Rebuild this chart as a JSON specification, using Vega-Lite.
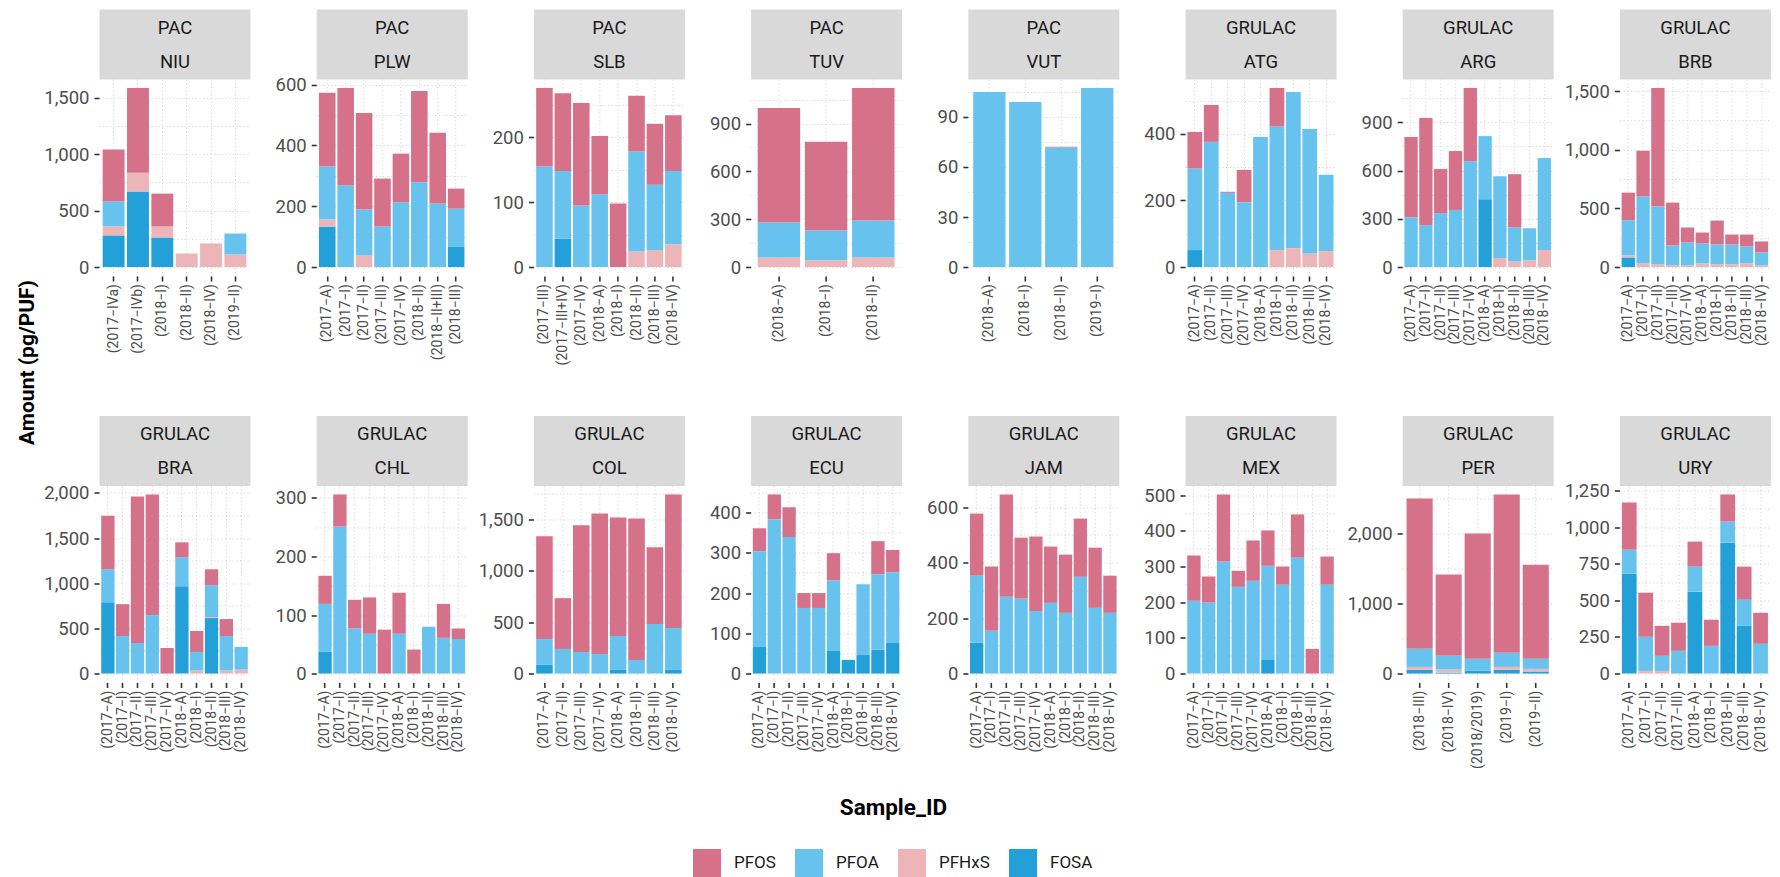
{
"$schema": "https://vega.github.io/schema/vega-lite/v6.json",
"background": "white",
"autosize": {"type": "none"},
"padding": {"left": 99, "top": 79, "right": 1681, "bottom": 798},
"bounds": "flush",
"columns": 8,
"spacing": {"row": 209.5, "column": 66.2},
"config": {
 "font": "Roboto",
 "view": {"stroke": null},
 "axisBottom": {"labelAngle": -90, "labelFont": "Roboto", "labelFontSize": 14, "labelColor": "#4d4d4d", "labelPadding": 2.5, "tickColor": "#333333", "tickSize": 5, "tickWidth": 1.6, "domain": false, "grid": true, "gridColor": "#d4d4d4", "gridDash": [1.2, 2.5], "gridWidth": 1, "bandPosition": 0.5, "labelOverlap": false, "labelBound": false},
 "axisLeft": {"labelFont": "Roboto", "labelFontSize": 18.5, "labelColor": "#4d4d4d", "labelPadding": 5, "tickColor": "#333333", "tickSize": 5, "tickWidth": 1.6, "domain": false, "grid": true, "gridColor": "#d4d4d4", "gridDash": [1.2, 2.5], "gridWidth": 1, "format": ",d"},
 "axisTop": {"domain": true, "domainColor": "#d9d9d9", "domainWidth": 70, "offset": 35, "ticks": false, "labels": false, "grid": false, "titleFont": "Roboto", "titleFontSize": 18.5, "titleFontWeight": "normal", "titleColor": "#1a1a1a", "titleLineHeight": 34, "titleX": 75.5, "titleY": -17, "titleAlign": "center", "titleBaseline": "middle", "titleAngle": 0, "titlePadding": 0},
 "legend": {"orient": "none", "legendX": 594, "legendY": 770, "direction": "horizontal", "symbolType": "square", "symbolSize": 784, "symbolStrokeWidth": 0, "symbolOpacity": 1, "labelFont": "Roboto", "labelFontSize": 17, "labelColor": "#1a1a1a", "labelOffset": 13, "columnPadding": 19, "padding": 0}
},
"data": {"values": [
{"country":"NIU","sample":"(2017−IVa)","compound":"FOSA","amount":280},
{"country":"NIU","sample":"(2017−IVa)","compound":"PFHxS","amount":80},
{"country":"NIU","sample":"(2017−IVa)","compound":"PFOA","amount":220},
{"country":"NIU","sample":"(2017−IVa)","compound":"PFOS","amount":460},
{"country":"NIU","sample":"(2017−IVb)","compound":"FOSA","amount":668},
{"country":"NIU","sample":"(2017−IVb)","compound":"PFHxS","amount":167},
{"country":"NIU","sample":"(2017−IVb)","compound":"PFOS","amount":750},
{"country":"NIU","sample":"(2018−I)","compound":"FOSA","amount":262},
{"country":"NIU","sample":"(2018−I)","compound":"PFHxS","amount":97},
{"country":"NIU","sample":"(2018−I)","compound":"PFOS","amount":291},
{"country":"NIU","sample":"(2018−II)","compound":"PFHxS","amount":120},
{"country":"NIU","sample":"(2018−IV)","compound":"PFHxS","amount":209},
{"country":"NIU","sample":"(2019−II)","compound":"PFHxS","amount":112},
{"country":"NIU","sample":"(2019−II)","compound":"PFOA","amount":185},
{"country":"PLW","sample":"(2017−A)","compound":"FOSA","amount":133},
{"country":"PLW","sample":"(2017−A)","compound":"PFHxS","amount":23},
{"country":"PLW","sample":"(2017−A)","compound":"PFOA","amount":175},
{"country":"PLW","sample":"(2017−A)","compound":"PFOS","amount":242},
{"country":"PLW","sample":"(2017−I)","compound":"PFOA","amount":268},
{"country":"PLW","sample":"(2017−I)","compound":"PFOS","amount":321},
{"country":"PLW","sample":"(2017−II)","compound":"PFHxS","amount":38},
{"country":"PLW","sample":"(2017−II)","compound":"PFOA","amount":151},
{"country":"PLW","sample":"(2017−II)","compound":"PFOS","amount":318},
{"country":"PLW","sample":"(2017−III)","compound":"PFOA","amount":133},
{"country":"PLW","sample":"(2017−III)","compound":"PFOS","amount":158},
{"country":"PLW","sample":"(2017−IV)","compound":"PFOA","amount":213},
{"country":"PLW","sample":"(2017−IV)","compound":"PFOS","amount":160},
{"country":"PLW","sample":"(2018−II)","compound":"PFOA","amount":279},
{"country":"PLW","sample":"(2018−II)","compound":"PFOS","amount":300},
{"country":"PLW","sample":"(2018−II+III)","compound":"PFOA","amount":209},
{"country":"PLW","sample":"(2018−II+III)","compound":"PFOS","amount":233},
{"country":"PLW","sample":"(2018−III)","compound":"FOSA","amount":68},
{"country":"PLW","sample":"(2018−III)","compound":"PFOA","amount":124},
{"country":"PLW","sample":"(2018−III)","compound":"PFOS","amount":66},
{"country":"SLB","sample":"(2017−III)","compound":"PFOA","amount":155},
{"country":"SLB","sample":"(2017−III)","compound":"PFOS","amount":121},
{"country":"SLB","sample":"(2017−III+IV)","compound":"FOSA","amount":44},
{"country":"SLB","sample":"(2017−III+IV)","compound":"PFOA","amount":104},
{"country":"SLB","sample":"(2017−III+IV)","compound":"PFOS","amount":120},
{"country":"SLB","sample":"(2017−IV)","compound":"PFOA","amount":95},
{"country":"SLB","sample":"(2017−IV)","compound":"PFOS","amount":158},
{"country":"SLB","sample":"(2018−A)","compound":"PFOA","amount":112},
{"country":"SLB","sample":"(2018−A)","compound":"PFOS","amount":90},
{"country":"SLB","sample":"(2018−I)","compound":"PFOS","amount":98},
{"country":"SLB","sample":"(2018−II)","compound":"PFHxS","amount":24},
{"country":"SLB","sample":"(2018−II)","compound":"PFOA","amount":154},
{"country":"SLB","sample":"(2018−II)","compound":"PFOS","amount":86},
{"country":"SLB","sample":"(2018−III)","compound":"PFHxS","amount":26},
{"country":"SLB","sample":"(2018−III)","compound":"PFOA","amount":101},
{"country":"SLB","sample":"(2018−III)","compound":"PFOS","amount":94},
{"country":"SLB","sample":"(2018−IV)","compound":"PFHxS","amount":35},
{"country":"SLB","sample":"(2018−IV)","compound":"PFOA","amount":113},
{"country":"SLB","sample":"(2018−IV)","compound":"PFOS","amount":86},
{"country":"TUV","sample":"(2018−A)","compound":"PFHxS","amount":60},
{"country":"TUV","sample":"(2018−A)","compound":"PFOA","amount":219},
{"country":"TUV","sample":"(2018−A)","compound":"PFOS","amount":719},
{"country":"TUV","sample":"(2018−I)","compound":"PFHxS","amount":42},
{"country":"TUV","sample":"(2018−I)","compound":"PFOA","amount":187},
{"country":"TUV","sample":"(2018−I)","compound":"PFOS","amount":556},
{"country":"TUV","sample":"(2018−II)","compound":"PFHxS","amount":60},
{"country":"TUV","sample":"(2018−II)","compound":"PFOA","amount":232},
{"country":"TUV","sample":"(2018−II)","compound":"PFOS","amount":831},
{"country":"VUT","sample":"(2018−A)","compound":"PFOA","amount":105},
{"country":"VUT","sample":"(2018−I)","compound":"PFOA","amount":99},
{"country":"VUT","sample":"(2018−II)","compound":"PFOA","amount":71.7},
{"country":"VUT","sample":"(2018−II)","compound":"PFOS","amount":0.5},
{"country":"VUT","sample":"(2019−I)","compound":"PFOA","amount":107.4},
{"country":"ATG","sample":"(2017−A)","compound":"FOSA","amount":51},
{"country":"ATG","sample":"(2017−A)","compound":"PFOA","amount":245},
{"country":"ATG","sample":"(2017−A)","compound":"PFOS","amount":110},
{"country":"ATG","sample":"(2017−II)","compound":"PFOA","amount":376},
{"country":"ATG","sample":"(2017−II)","compound":"PFOS","amount":111},
{"country":"ATG","sample":"(2017−III)","compound":"PFOA","amount":223},
{"country":"ATG","sample":"(2017−III)","compound":"PFOS","amount":3},
{"country":"ATG","sample":"(2017−IV)","compound":"PFOA","amount":195},
{"country":"ATG","sample":"(2017−IV)","compound":"PFOS","amount":97},
{"country":"ATG","sample":"(2018−A)","compound":"PFOA","amount":391},
{"country":"ATG","sample":"(2018−I)","compound":"PFHxS","amount":51},
{"country":"ATG","sample":"(2018−I)","compound":"PFOA","amount":371},
{"country":"ATG","sample":"(2018−I)","compound":"PFOS","amount":116},
{"country":"ATG","sample":"(2018−II)","compound":"PFHxS","amount":57},
{"country":"ATG","sample":"(2018−II)","compound":"PFOA","amount":469},
{"country":"ATG","sample":"(2018−III)","compound":"PFHxS","amount":41},
{"country":"ATG","sample":"(2018−III)","compound":"PFOA","amount":374},
{"country":"ATG","sample":"(2018−IV)","compound":"PFHxS","amount":48},
{"country":"ATG","sample":"(2018−IV)","compound":"PFOA","amount":229},
{"country":"ARG","sample":"(2017−A)","compound":"PFOA","amount":309},
{"country":"ARG","sample":"(2017−A)","compound":"PFOS","amount":499},
{"country":"ARG","sample":"(2017−I)","compound":"PFOA","amount":260},
{"country":"ARG","sample":"(2017−I)","compound":"PFOS","amount":666},
{"country":"ARG","sample":"(2017−II)","compound":"PFOA","amount":334},
{"country":"ARG","sample":"(2017−II)","compound":"PFOS","amount":275},
{"country":"ARG","sample":"(2017−III)","compound":"PFOA","amount":355},
{"country":"ARG","sample":"(2017−III)","compound":"PFOS","amount":366},
{"country":"ARG","sample":"(2017−IV)","compound":"PFOA","amount":658},
{"country":"ARG","sample":"(2017−IV)","compound":"PFOS","amount":455},
{"country":"ARG","sample":"(2018−A)","compound":"FOSA","amount":422},
{"country":"ARG","sample":"(2018−A)","compound":"PFOA","amount":392},
{"country":"ARG","sample":"(2018−I)","compound":"PFHxS","amount":56},
{"country":"ARG","sample":"(2018−I)","compound":"PFOA","amount":509},
{"country":"ARG","sample":"(2018−II)","compound":"PFHxS","amount":35},
{"country":"ARG","sample":"(2018−II)","compound":"PFOA","amount":212},
{"country":"ARG","sample":"(2018−II)","compound":"PFOS","amount":330},
{"country":"ARG","sample":"(2018−III)","compound":"PFHxS","amount":42},
{"country":"ARG","sample":"(2018−III)","compound":"PFOA","amount":199},
{"country":"ARG","sample":"(2018−IV)","compound":"PFHxS","amount":106},
{"country":"ARG","sample":"(2018−IV)","compound":"PFOA","amount":571},
{"country":"BRB","sample":"(2017−A)","compound":"FOSA","amount":82},
{"country":"BRB","sample":"(2017−A)","compound":"PFHxS","amount":17},
{"country":"BRB","sample":"(2017−A)","compound":"PFOA","amount":300},
{"country":"BRB","sample":"(2017−A)","compound":"PFOS","amount":235},
{"country":"BRB","sample":"(2017−I)","compound":"PFHxS","amount":31},
{"country":"BRB","sample":"(2017−I)","compound":"PFOA","amount":572},
{"country":"BRB","sample":"(2017−I)","compound":"PFOS","amount":388},
{"country":"BRB","sample":"(2017−II)","compound":"PFHxS","amount":23},
{"country":"BRB","sample":"(2017−II)","compound":"PFOA","amount":492},
{"country":"BRB","sample":"(2017−II)","compound":"PFOS","amount":1011},
{"country":"BRB","sample":"(2017−III)","compound":"PFHxS","amount":14},
{"country":"BRB","sample":"(2017−III)","compound":"PFOA","amount":170},
{"country":"BRB","sample":"(2017−III)","compound":"PFOS","amount":365},
{"country":"BRB","sample":"(2017−IV)","compound":"PFHxS","amount":14},
{"country":"BRB","sample":"(2017−IV)","compound":"PFOA","amount":195},
{"country":"BRB","sample":"(2017−IV)","compound":"PFOS","amount":128},
{"country":"BRB","sample":"(2018−A)","compound":"FOSA","amount":4},
{"country":"BRB","sample":"(2018−A)","compound":"PFHxS","amount":27},
{"country":"BRB","sample":"(2018−A)","compound":"PFOA","amount":170},
{"country":"BRB","sample":"(2018−A)","compound":"PFOS","amount":93},
{"country":"BRB","sample":"(2018−I)","compound":"PFHxS","amount":23},
{"country":"BRB","sample":"(2018−I)","compound":"PFOA","amount":169},
{"country":"BRB","sample":"(2018−I)","compound":"PFOS","amount":204},
{"country":"BRB","sample":"(2018−II)","compound":"PFHxS","amount":23},
{"country":"BRB","sample":"(2018−II)","compound":"PFOA","amount":169},
{"country":"BRB","sample":"(2018−II)","compound":"PFOS","amount":85},
{"country":"BRB","sample":"(2018−III)","compound":"PFHxS","amount":31},
{"country":"BRB","sample":"(2018−III)","compound":"PFOA","amount":144},
{"country":"BRB","sample":"(2018−III)","compound":"PFOS","amount":102},
{"country":"BRB","sample":"(2018−IV)","compound":"PFHxS","amount":14},
{"country":"BRB","sample":"(2018−IV)","compound":"PFOA","amount":111},
{"country":"BRB","sample":"(2018−IV)","compound":"PFOS","amount":93},
{"country":"BRA","sample":"(2017−A)","compound":"FOSA","amount":790},
{"country":"BRA","sample":"(2017−A)","compound":"PFOA","amount":364},
{"country":"BRA","sample":"(2017−A)","compound":"PFOS","amount":592},
{"country":"BRA","sample":"(2017−I)","compound":"PFOA","amount":415},
{"country":"BRA","sample":"(2017−I)","compound":"PFOS","amount":353},
{"country":"BRA","sample":"(2017−II)","compound":"PFOA","amount":338},
{"country":"BRA","sample":"(2017−II)","compound":"PFOS","amount":1622},
{"country":"BRA","sample":"(2017−III)","compound":"PFOA","amount":647},
{"country":"BRA","sample":"(2017−III)","compound":"PFOS","amount":1335},
{"country":"BRA","sample":"(2017−IV)","compound":"PFOS","amount":283},
{"country":"BRA","sample":"(2018−A)","compound":"FOSA","amount":967},
{"country":"BRA","sample":"(2018−A)","compound":"PFOA","amount":320},
{"country":"BRA","sample":"(2018−A)","compound":"PFOS","amount":165},
{"country":"BRA","sample":"(2018−I)","compound":"PFHxS","amount":33},
{"country":"BRA","sample":"(2018−I)","compound":"PFOA","amount":206},
{"country":"BRA","sample":"(2018−I)","compound":"PFOS","amount":232},
{"country":"BRA","sample":"(2018−II)","compound":"FOSA","amount":614},
{"country":"BRA","sample":"(2018−II)","compound":"PFHxS","amount":11},
{"country":"BRA","sample":"(2018−II)","compound":"PFOA","amount":353},
{"country":"BRA","sample":"(2018−II)","compound":"PFOS","amount":176},
{"country":"BRA","sample":"(2018−III)","compound":"PFHxS","amount":33},
{"country":"BRA","sample":"(2018−III)","compound":"PFOA","amount":382},
{"country":"BRA","sample":"(2018−III)","compound":"PFOS","amount":188},
{"country":"BRA","sample":"(2018−IV)","compound":"PFHxS","amount":44},
{"country":"BRA","sample":"(2018−IV)","compound":"PFOA","amount":250},
{"country":"CHL","sample":"(2017−A)","compound":"FOSA","amount":37},
{"country":"CHL","sample":"(2017−A)","compound":"PFOA","amount":82},
{"country":"CHL","sample":"(2017−A)","compound":"PFOS","amount":48},
{"country":"CHL","sample":"(2017−I)","compound":"PFOA","amount":251},
{"country":"CHL","sample":"(2017−I)","compound":"PFOS","amount":55},
{"country":"CHL","sample":"(2017−II)","compound":"PFOA","amount":77},
{"country":"CHL","sample":"(2017−II)","compound":"PFOS","amount":49},
{"country":"CHL","sample":"(2017−III)","compound":"PFOA","amount":68},
{"country":"CHL","sample":"(2017−III)","compound":"PFOS","amount":62},
{"country":"CHL","sample":"(2017−IV)","compound":"PFOS","amount":75},
{"country":"CHL","sample":"(2018−A)","compound":"PFOA","amount":68},
{"country":"CHL","sample":"(2018−A)","compound":"PFOS","amount":70},
{"country":"CHL","sample":"(2018−I)","compound":"PFOS","amount":41},
{"country":"CHL","sample":"(2018−II)","compound":"PFOA","amount":80},
{"country":"CHL","sample":"(2018−III)","compound":"PFOA","amount":61},
{"country":"CHL","sample":"(2018−III)","compound":"PFOS","amount":58},
{"country":"CHL","sample":"(2018−IV)","compound":"PFOA","amount":59},
{"country":"CHL","sample":"(2018−IV)","compound":"PFOS","amount":18},
{"country":"COL","sample":"(2017−A)","compound":"FOSA","amount":84},
{"country":"COL","sample":"(2017−A)","compound":"PFOA","amount":251},
{"country":"COL","sample":"(2017−A)","compound":"PFOS","amount":997},
{"country":"COL","sample":"(2017−II)","compound":"PFOA","amount":239},
{"country":"COL","sample":"(2017−II)","compound":"PFOS","amount":493},
{"country":"COL","sample":"(2017−III)","compound":"PFOA","amount":210},
{"country":"COL","sample":"(2017−III)","compound":"PFOS","amount":1229},
{"country":"COL","sample":"(2017−IV)","compound":"PFOA","amount":190},
{"country":"COL","sample":"(2017−IV)","compound":"PFOS","amount":1365},
{"country":"COL","sample":"(2018−A)","compound":"FOSA","amount":35},
{"country":"COL","sample":"(2018−A)","compound":"PFOA","amount":330},
{"country":"COL","sample":"(2018−A)","compound":"PFOS","amount":1151},
{"country":"COL","sample":"(2018−II)","compound":"PFOA","amount":132},
{"country":"COL","sample":"(2018−II)","compound":"PFOS","amount":1374},
{"country":"COL","sample":"(2018−III)","compound":"PFOA","amount":481},
{"country":"COL","sample":"(2018−III)","compound":"PFOS","amount":745},
{"country":"COL","sample":"(2018−IV)","compound":"FOSA","amount":35},
{"country":"COL","sample":"(2018−IV)","compound":"PFOA","amount":407},
{"country":"COL","sample":"(2018−IV)","compound":"PFOS","amount":1297},
{"country":"ECU","sample":"(2017−A)","compound":"FOSA","amount":66},
{"country":"ECU","sample":"(2017−A)","compound":"PFOA","amount":238},
{"country":"ECU","sample":"(2017−A)","compound":"PFOS","amount":57},
{"country":"ECU","sample":"(2017−I)","compound":"PFOA","amount":383},
{"country":"ECU","sample":"(2017−I)","compound":"PFOS","amount":62},
{"country":"ECU","sample":"(2017−II)","compound":"PFOA","amount":339},
{"country":"ECU","sample":"(2017−II)","compound":"PFOS","amount":74},
{"country":"ECU","sample":"(2017−III)","compound":"PFOA","amount":163},
{"country":"ECU","sample":"(2017−III)","compound":"PFOS","amount":37},
{"country":"ECU","sample":"(2017−IV)","compound":"PFOA","amount":163},
{"country":"ECU","sample":"(2017−IV)","compound":"PFOS","amount":37},
{"country":"ECU","sample":"(2018−A)","compound":"FOSA","amount":56},
{"country":"ECU","sample":"(2018−A)","compound":"PFOA","amount":176},
{"country":"ECU","sample":"(2018−A)","compound":"PFOS","amount":67},
{"country":"ECU","sample":"(2018−I)","compound":"FOSA","amount":34},
{"country":"ECU","sample":"(2018−II)","compound":"FOSA","amount":46},
{"country":"ECU","sample":"(2018−II)","compound":"PFOA","amount":176},
{"country":"ECU","sample":"(2018−III)","compound":"FOSA","amount":59},
{"country":"ECU","sample":"(2018−III)","compound":"PFOA","amount":188},
{"country":"ECU","sample":"(2018−III)","compound":"PFOS","amount":82},
{"country":"ECU","sample":"(2018−IV)","compound":"FOSA","amount":76},
{"country":"ECU","sample":"(2018−IV)","compound":"PFOA","amount":176},
{"country":"ECU","sample":"(2018−IV)","compound":"PFOS","amount":55},
{"country":"JAM","sample":"(2017−A)","compound":"FOSA","amount":111},
{"country":"JAM","sample":"(2017−A)","compound":"PFOA","amount":242},
{"country":"JAM","sample":"(2017−A)","compound":"PFOS","amount":224},
{"country":"JAM","sample":"(2017−I)","compound":"PFOA","amount":154},
{"country":"JAM","sample":"(2017−I)","compound":"PFOS","amount":232},
{"country":"JAM","sample":"(2017−II)","compound":"PFOA","amount":277},
{"country":"JAM","sample":"(2017−II)","compound":"PFOS","amount":369},
{"country":"JAM","sample":"(2017−III)","compound":"PFOA","amount":270},
{"country":"JAM","sample":"(2017−III)","compound":"PFOS","amount":220},
{"country":"JAM","sample":"(2017−IV)","compound":"PFOA","amount":226},
{"country":"JAM","sample":"(2017−IV)","compound":"PFOS","amount":268},
{"country":"JAM","sample":"(2018−A)","compound":"PFOA","amount":255},
{"country":"JAM","sample":"(2018−A)","compound":"PFOS","amount":203},
{"country":"JAM","sample":"(2018−I)","compound":"PFOA","amount":219},
{"country":"JAM","sample":"(2018−I)","compound":"PFOS","amount":210},
{"country":"JAM","sample":"(2018−II)","compound":"PFOA","amount":349},
{"country":"JAM","sample":"(2018−II)","compound":"PFOS","amount":210},
{"country":"JAM","sample":"(2018−III)","compound":"PFOA","amount":237},
{"country":"JAM","sample":"(2018−III)","compound":"PFOS","amount":217},
{"country":"JAM","sample":"(2018−IV)","compound":"PFOA","amount":219},
{"country":"JAM","sample":"(2018−IV)","compound":"PFOS","amount":134},
{"country":"MEX","sample":"(2017−A)","compound":"PFOA","amount":204},
{"country":"MEX","sample":"(2017−A)","compound":"PFOS","amount":127},
{"country":"MEX","sample":"(2017−I)","compound":"PFOA","amount":199},
{"country":"MEX","sample":"(2017−I)","compound":"PFOS","amount":73},
{"country":"MEX","sample":"(2017−II)","compound":"PFOA","amount":314},
{"country":"MEX","sample":"(2017−II)","compound":"PFOS","amount":188},
{"country":"MEX","sample":"(2017−III)","compound":"PFOA","amount":243},
{"country":"MEX","sample":"(2017−III)","compound":"PFOS","amount":45},
{"country":"MEX","sample":"(2017−IV)","compound":"PFOA","amount":260},
{"country":"MEX","sample":"(2017−IV)","compound":"PFOS","amount":113},
{"country":"MEX","sample":"(2018−A)","compound":"FOSA","amount":38},
{"country":"MEX","sample":"(2018−A)","compound":"PFOA","amount":264},
{"country":"MEX","sample":"(2018−A)","compound":"PFOS","amount":99},
{"country":"MEX","sample":"(2018−I)","compound":"PFOA","amount":249},
{"country":"MEX","sample":"(2018−I)","compound":"PFOS","amount":51},
{"country":"MEX","sample":"(2018−II)","compound":"PFOA","amount":325},
{"country":"MEX","sample":"(2018−II)","compound":"PFOS","amount":121},
{"country":"MEX","sample":"(2018−III)","compound":"PFOS","amount":69},
{"country":"MEX","sample":"(2018−IV)","compound":"PFOA","amount":249},
{"country":"MEX","sample":"(2018−IV)","compound":"PFOS","amount":79},
{"country":"PER","sample":"(2018−III)","compound":"FOSA","amount":52},
{"country":"PER","sample":"(2018−III)","compound":"PFHxS","amount":43},
{"country":"PER","sample":"(2018−III)","compound":"PFOA","amount":257},
{"country":"PER","sample":"(2018−III)","compound":"PFOS","amount":2143},
{"country":"PER","sample":"(2018−IV)","compound":"FOSA","amount":10},
{"country":"PER","sample":"(2018−IV)","compound":"PFHxS","amount":47},
{"country":"PER","sample":"(2018−IV)","compound":"PFOA","amount":195},
{"country":"PER","sample":"(2018−IV)","compound":"PFOS","amount":1158},
{"country":"PER","sample":"(2018/2019)","compound":"FOSA","amount":43},
{"country":"PER","sample":"(2018/2019)","compound":"PFOA","amount":167},
{"country":"PER","sample":"(2018/2019)","compound":"PFOS","amount":1785},
{"country":"PER","sample":"(2019−I)","compound":"FOSA","amount":52},
{"country":"PER","sample":"(2019−I)","compound":"PFHxS","amount":43},
{"country":"PER","sample":"(2019−I)","compound":"PFOA","amount":200},
{"country":"PER","sample":"(2019−I)","compound":"PFOS","amount":2257},
{"country":"PER","sample":"(2019−II)","compound":"FOSA","amount":29},
{"country":"PER","sample":"(2019−II)","compound":"PFHxS","amount":38},
{"country":"PER","sample":"(2019−II)","compound":"PFOA","amount":143},
{"country":"PER","sample":"(2019−II)","compound":"PFOS","amount":1342},
{"country":"URY","sample":"(2017−A)","compound":"FOSA","amount":682},
{"country":"URY","sample":"(2017−A)","compound":"PFOA","amount":164},
{"country":"URY","sample":"(2017−A)","compound":"PFOS","amount":322},
{"country":"URY","sample":"(2017−I)","compound":"PFHxS","amount":18},
{"country":"URY","sample":"(2017−I)","compound":"PFOA","amount":233},
{"country":"URY","sample":"(2017−I)","compound":"PFOS","amount":301},
{"country":"URY","sample":"(2017−II)","compound":"PFHxS","amount":18},
{"country":"URY","sample":"(2017−II)","compound":"PFOA","amount":103},
{"country":"URY","sample":"(2017−II)","compound":"PFOS","amount":205},
{"country":"URY","sample":"(2017−III)","compound":"PFOA","amount":155},
{"country":"URY","sample":"(2017−III)","compound":"PFOS","amount":192},
{"country":"URY","sample":"(2018−A)","compound":"FOSA","amount":559},
{"country":"URY","sample":"(2018−A)","compound":"PFOA","amount":171},
{"country":"URY","sample":"(2018−A)","compound":"PFOS","amount":171},
{"country":"URY","sample":"(2018−I)","compound":"PFOA","amount":189},
{"country":"URY","sample":"(2018−I)","compound":"PFOS","amount":178},
{"country":"URY","sample":"(2018−II)","compound":"FOSA","amount":894},
{"country":"URY","sample":"(2018−II)","compound":"PFOA","amount":144},
{"country":"URY","sample":"(2018−II)","compound":"PFOS","amount":185},
{"country":"URY","sample":"(2018−III)","compound":"FOSA","amount":326},
{"country":"URY","sample":"(2018−III)","compound":"PFOA","amount":178},
{"country":"URY","sample":"(2018−III)","compound":"PFOS","amount":226},
{"country":"URY","sample":"(2018−IV)","compound":"PFOA","amount":203},
{"country":"URY","sample":"(2018−IV)","compound":"PFOS","amount":212}
]},
"resolve": {"scale": {"color": "shared"}, "legend": {"color": "shared"}},
"concat": [
{"width":151,"height":197,"transform":[{"filter":"datum.country==='NIU'"}],"layer":[{"mark":"bar","encoding":{"x":{"field":"sample","type":"nominal","sort":null,"title":null,"scale":{"paddingInner":0.1,"paddingOuter":0.15},"axis":{"orient":"bottom"}},"y":{"field":"amount","type":"quantitative","title":"Amount (pg/PUF)","scale":{"nice":false,"zero":true,"padding":8.95},"axis":{"values":[0,250,500,750,1000,1250,1500],"labelExpr":"datum.value % 500 ? '' : datum.label","tickOpacity":{"condition":{"test":"datum.value % 500","value":0},"value":1},"titleX":-72,"titleY":283,"titleAngle":-90,"titleAlign":"center","titleBaseline":"middle","titleFont":"Roboto","titleFontSize":21,"titleFontWeight":"bold","titleColor":"#000000"}},"color":{"field":"compound","type":"nominal","title":null,"scale":{"domain":["PFOS","PFOA","PFHxS","FOSA"],"range":["#d6718a","#67c3ee","#ecb6b9","#23a0d8"]}},"order":{"field":"compound","sort":"ascending"}}},{"mark":{"type":"point","opacity":0},"encoding":{"x":{"field":"sample","type":"nominal","sort":null,"axis":{"orient":"top","title":["PAC","NIU"]}}}}],"resolve":{"axis":{"x":"independent"}}},
{"width":151,"height":197,"transform":[{"filter":"datum.country==='PLW'"}],"layer":[{"mark":"bar","encoding":{"x":{"field":"sample","type":"nominal","sort":null,"title":null,"scale":{"paddingInner":0.1,"paddingOuter":0.15},"axis":{"orient":"bottom"}},"y":{"field":"amount","type":"quantitative","title":null,"scale":{"nice":false,"zero":true,"padding":8.95},"axis":{"values":[0,100,200,300,400,500,600],"labelExpr":"datum.value % 200 ? '' : datum.label","tickOpacity":{"condition":{"test":"datum.value % 200","value":0},"value":1}}},"color":{"field":"compound","type":"nominal","title":null,"scale":{"domain":["PFOS","PFOA","PFHxS","FOSA"],"range":["#d6718a","#67c3ee","#ecb6b9","#23a0d8"]}},"order":{"field":"compound","sort":"ascending"}}},{"mark":{"type":"point","opacity":0},"encoding":{"x":{"field":"sample","type":"nominal","sort":null,"axis":{"orient":"top","title":["PAC","PLW"]}}}}],"resolve":{"axis":{"x":"independent"}}},
{"width":151,"height":197,"transform":[{"filter":"datum.country==='SLB'"}],"layer":[{"mark":"bar","encoding":{"x":{"field":"sample","type":"nominal","sort":null,"title":null,"scale":{"paddingInner":0.1,"paddingOuter":0.15},"axis":{"orient":"bottom"}},"y":{"field":"amount","type":"quantitative","title":null,"scale":{"nice":false,"zero":true,"padding":8.95},"axis":{"values":[0,50,100,150,200,250],"labelExpr":"datum.value % 100 ? '' : datum.label","tickOpacity":{"condition":{"test":"datum.value % 100","value":0},"value":1}}},"color":{"field":"compound","type":"nominal","title":null,"scale":{"domain":["PFOS","PFOA","PFHxS","FOSA"],"range":["#d6718a","#67c3ee","#ecb6b9","#23a0d8"]}},"order":{"field":"compound","sort":"ascending"}}},{"mark":{"type":"point","opacity":0},"encoding":{"x":{"field":"sample","type":"nominal","sort":null,"axis":{"orient":"top","title":["PAC","SLB"]}}}}],"resolve":{"axis":{"x":"independent"}}},
{"width":151,"height":197,"transform":[{"filter":"datum.country==='TUV'"}],"layer":[{"mark":"bar","encoding":{"x":{"field":"sample","type":"nominal","sort":null,"title":null,"scale":{"paddingInner":0.1,"paddingOuter":0.15},"axis":{"orient":"bottom"}},"y":{"field":"amount","type":"quantitative","title":null,"scale":{"nice":false,"zero":true,"padding":8.95},"axis":{"values":[0,150,300,450,600,750,900,1050],"labelExpr":"datum.value % 300 ? '' : datum.label","tickOpacity":{"condition":{"test":"datum.value % 300","value":0},"value":1}}},"color":{"field":"compound","type":"nominal","title":null,"scale":{"domain":["PFOS","PFOA","PFHxS","FOSA"],"range":["#d6718a","#67c3ee","#ecb6b9","#23a0d8"]}},"order":{"field":"compound","sort":"ascending"}}},{"mark":{"type":"point","opacity":0},"encoding":{"x":{"field":"sample","type":"nominal","sort":null,"axis":{"orient":"top","title":["PAC","TUV"]}}}}],"resolve":{"axis":{"x":"independent"}}},
{"width":151,"height":197,"transform":[{"filter":"datum.country==='VUT'"}],"layer":[{"mark":"bar","encoding":{"x":{"field":"sample","type":"nominal","sort":null,"title":null,"scale":{"paddingInner":0.1,"paddingOuter":0.15},"axis":{"orient":"bottom"}},"y":{"field":"amount","type":"quantitative","title":null,"scale":{"nice":false,"zero":true,"padding":8.95},"axis":{"values":[0,15,30,45,60,75,90,105],"labelExpr":"datum.value % 30 ? '' : datum.label","tickOpacity":{"condition":{"test":"datum.value % 30","value":0},"value":1}}},"color":{"field":"compound","type":"nominal","title":null,"scale":{"domain":["PFOS","PFOA","PFHxS","FOSA"],"range":["#d6718a","#67c3ee","#ecb6b9","#23a0d8"]}},"order":{"field":"compound","sort":"ascending"}}},{"mark":{"type":"point","opacity":0},"encoding":{"x":{"field":"sample","type":"nominal","sort":null,"axis":{"orient":"top","title":["PAC","VUT"]}}}}],"resolve":{"axis":{"x":"independent"}}},
{"width":151,"height":197,"transform":[{"filter":"datum.country==='ATG'"}],"layer":[{"mark":"bar","encoding":{"x":{"field":"sample","type":"nominal","sort":null,"title":null,"scale":{"paddingInner":0.1,"paddingOuter":0.15},"axis":{"orient":"bottom"}},"y":{"field":"amount","type":"quantitative","title":null,"scale":{"nice":false,"zero":true,"padding":8.95},"axis":{"values":[0,100,200,300,400,500],"labelExpr":"datum.value % 200 ? '' : datum.label","tickOpacity":{"condition":{"test":"datum.value % 200","value":0},"value":1}}},"color":{"field":"compound","type":"nominal","title":null,"scale":{"domain":["PFOS","PFOA","PFHxS","FOSA"],"range":["#d6718a","#67c3ee","#ecb6b9","#23a0d8"]}},"order":{"field":"compound","sort":"ascending"}}},{"mark":{"type":"point","opacity":0},"encoding":{"x":{"field":"sample","type":"nominal","sort":null,"axis":{"orient":"top","title":["GRULAC","ATG"]}}}}],"resolve":{"axis":{"x":"independent"}}},
{"width":151,"height":197,"transform":[{"filter":"datum.country==='ARG'"}],"layer":[{"mark":"bar","encoding":{"x":{"field":"sample","type":"nominal","sort":null,"title":null,"scale":{"paddingInner":0.1,"paddingOuter":0.15},"axis":{"orient":"bottom"}},"y":{"field":"amount","type":"quantitative","title":null,"scale":{"nice":false,"zero":true,"padding":8.95},"axis":{"values":[0,150,300,450,600,750,900,1050],"labelExpr":"datum.value % 300 ? '' : datum.label","tickOpacity":{"condition":{"test":"datum.value % 300","value":0},"value":1}}},"color":{"field":"compound","type":"nominal","title":null,"scale":{"domain":["PFOS","PFOA","PFHxS","FOSA"],"range":["#d6718a","#67c3ee","#ecb6b9","#23a0d8"]}},"order":{"field":"compound","sort":"ascending"}}},{"mark":{"type":"point","opacity":0},"encoding":{"x":{"field":"sample","type":"nominal","sort":null,"axis":{"orient":"top","title":["GRULAC","ARG"]}}}}],"resolve":{"axis":{"x":"independent"}}},
{"width":151,"height":197,"transform":[{"filter":"datum.country==='BRB'"}],"layer":[{"mark":"bar","encoding":{"x":{"field":"sample","type":"nominal","sort":null,"title":null,"scale":{"paddingInner":0.1,"paddingOuter":0.15},"axis":{"orient":"bottom"}},"y":{"field":"amount","type":"quantitative","title":null,"scale":{"nice":false,"zero":true,"padding":8.95},"axis":{"values":[0,250,500,750,1000,1250,1500],"labelExpr":"datum.value % 500 ? '' : datum.label","tickOpacity":{"condition":{"test":"datum.value % 500","value":0},"value":1}}},"color":{"field":"compound","type":"nominal","title":null,"scale":{"domain":["PFOS","PFOA","PFHxS","FOSA"],"range":["#d6718a","#67c3ee","#ecb6b9","#23a0d8"]}},"order":{"field":"compound","sort":"ascending"}}},{"mark":{"type":"point","opacity":0},"encoding":{"x":{"field":"sample","type":"nominal","sort":null,"axis":{"orient":"top","title":["GRULAC","BRB"]}}}}],"resolve":{"axis":{"x":"independent"}}},
{"width":151,"height":197,"transform":[{"filter":"datum.country==='BRA'"}],"layer":[{"mark":"bar","encoding":{"x":{"field":"sample","type":"nominal","sort":null,"title":"Sample_ID","scale":{"paddingInner":0.1,"paddingOuter":0.15},"axis":{"orient":"bottom","titleX":794,"titleY":124.5,"titleAngle":0,"titleAlign":"center","titleBaseline":"middle","titleFont":"Roboto","titleFontSize":22.5,"titleFontWeight":"bold","titleColor":"#000000"}},"y":{"field":"amount","type":"quantitative","title":null,"scale":{"nice":false,"zero":true,"padding":8.95},"axis":{"values":[0,250,500,750,1000,1250,1500,1750,2000],"labelExpr":"datum.value % 500 ? '' : datum.label","tickOpacity":{"condition":{"test":"datum.value % 500","value":0},"value":1}}},"color":{"field":"compound","type":"nominal","title":null,"scale":{"domain":["PFOS","PFOA","PFHxS","FOSA"],"range":["#d6718a","#67c3ee","#ecb6b9","#23a0d8"]}},"order":{"field":"compound","sort":"ascending"}}},{"mark":{"type":"point","opacity":0},"encoding":{"x":{"field":"sample","type":"nominal","sort":null,"axis":{"orient":"top","title":["GRULAC","BRA"]}}}}],"resolve":{"axis":{"x":"independent"}}},
{"width":151,"height":197,"transform":[{"filter":"datum.country==='CHL'"}],"layer":[{"mark":"bar","encoding":{"x":{"field":"sample","type":"nominal","sort":null,"title":null,"scale":{"paddingInner":0.1,"paddingOuter":0.15},"axis":{"orient":"bottom"}},"y":{"field":"amount","type":"quantitative","title":null,"scale":{"nice":false,"zero":true,"padding":8.95},"axis":{"values":[0,50,100,150,200,250,300],"labelExpr":"datum.value % 100 ? '' : datum.label","tickOpacity":{"condition":{"test":"datum.value % 100","value":0},"value":1}}},"color":{"field":"compound","type":"nominal","title":null,"scale":{"domain":["PFOS","PFOA","PFHxS","FOSA"],"range":["#d6718a","#67c3ee","#ecb6b9","#23a0d8"]}},"order":{"field":"compound","sort":"ascending"}}},{"mark":{"type":"point","opacity":0},"encoding":{"x":{"field":"sample","type":"nominal","sort":null,"axis":{"orient":"top","title":["GRULAC","CHL"]}}}}],"resolve":{"axis":{"x":"independent"}}},
{"width":151,"height":197,"transform":[{"filter":"datum.country==='COL'"}],"layer":[{"mark":"bar","encoding":{"x":{"field":"sample","type":"nominal","sort":null,"title":null,"scale":{"paddingInner":0.1,"paddingOuter":0.15},"axis":{"orient":"bottom"}},"y":{"field":"amount","type":"quantitative","title":null,"scale":{"nice":false,"zero":true,"padding":8.95},"axis":{"values":[0,250,500,750,1000,1250,1500,1750],"labelExpr":"datum.value % 500 ? '' : datum.label","tickOpacity":{"condition":{"test":"datum.value % 500","value":0},"value":1}}},"color":{"field":"compound","type":"nominal","title":null,"scale":{"domain":["PFOS","PFOA","PFHxS","FOSA"],"range":["#d6718a","#67c3ee","#ecb6b9","#23a0d8"]}},"order":{"field":"compound","sort":"ascending"}}},{"mark":{"type":"point","opacity":0},"encoding":{"x":{"field":"sample","type":"nominal","sort":null,"axis":{"orient":"top","title":["GRULAC","COL"]}}}}],"resolve":{"axis":{"x":"independent"}}},
{"width":151,"height":197,"transform":[{"filter":"datum.country==='ECU'"}],"layer":[{"mark":"bar","encoding":{"x":{"field":"sample","type":"nominal","sort":null,"title":null,"scale":{"paddingInner":0.1,"paddingOuter":0.15},"axis":{"orient":"bottom"}},"y":{"field":"amount","type":"quantitative","title":null,"scale":{"nice":false,"zero":true,"padding":8.95},"axis":{"values":[0,50,100,150,200,250,300,350,400,450],"labelExpr":"datum.value % 100 ? '' : datum.label","tickOpacity":{"condition":{"test":"datum.value % 100","value":0},"value":1}}},"color":{"field":"compound","type":"nominal","title":null,"scale":{"domain":["PFOS","PFOA","PFHxS","FOSA"],"range":["#d6718a","#67c3ee","#ecb6b9","#23a0d8"]}},"order":{"field":"compound","sort":"ascending"}}},{"mark":{"type":"point","opacity":0},"encoding":{"x":{"field":"sample","type":"nominal","sort":null,"axis":{"orient":"top","title":["GRULAC","ECU"]}}}}],"resolve":{"axis":{"x":"independent"}}},
{"width":151,"height":197,"transform":[{"filter":"datum.country==='JAM'"}],"layer":[{"mark":"bar","encoding":{"x":{"field":"sample","type":"nominal","sort":null,"title":null,"scale":{"paddingInner":0.1,"paddingOuter":0.15},"axis":{"orient":"bottom"}},"y":{"field":"amount","type":"quantitative","title":null,"scale":{"nice":false,"zero":true,"padding":8.95},"axis":{"values":[0,100,200,300,400,500,600],"labelExpr":"datum.value % 200 ? '' : datum.label","tickOpacity":{"condition":{"test":"datum.value % 200","value":0},"value":1}}},"color":{"field":"compound","type":"nominal","title":null,"scale":{"domain":["PFOS","PFOA","PFHxS","FOSA"],"range":["#d6718a","#67c3ee","#ecb6b9","#23a0d8"]}},"order":{"field":"compound","sort":"ascending"}}},{"mark":{"type":"point","opacity":0},"encoding":{"x":{"field":"sample","type":"nominal","sort":null,"axis":{"orient":"top","title":["GRULAC","JAM"]}}}}],"resolve":{"axis":{"x":"independent"}}},
{"width":151,"height":197,"transform":[{"filter":"datum.country==='MEX'"}],"layer":[{"mark":"bar","encoding":{"x":{"field":"sample","type":"nominal","sort":null,"title":null,"scale":{"paddingInner":0.1,"paddingOuter":0.15},"axis":{"orient":"bottom"}},"y":{"field":"amount","type":"quantitative","title":null,"scale":{"nice":false,"zero":true,"padding":8.95},"axis":{"values":[0,50,100,150,200,250,300,350,400,450,500],"labelExpr":"datum.value % 100 ? '' : datum.label","tickOpacity":{"condition":{"test":"datum.value % 100","value":0},"value":1}}},"color":{"field":"compound","type":"nominal","title":null,"scale":{"domain":["PFOS","PFOA","PFHxS","FOSA"],"range":["#d6718a","#67c3ee","#ecb6b9","#23a0d8"]}},"order":{"field":"compound","sort":"ascending"}}},{"mark":{"type":"point","opacity":0},"encoding":{"x":{"field":"sample","type":"nominal","sort":null,"axis":{"orient":"top","title":["GRULAC","MEX"]}}}}],"resolve":{"axis":{"x":"independent"}}},
{"width":151,"height":197,"transform":[{"filter":"datum.country==='PER'"}],"layer":[{"mark":"bar","encoding":{"x":{"field":"sample","type":"nominal","sort":null,"title":null,"scale":{"paddingInner":0.1,"paddingOuter":0.15},"axis":{"orient":"bottom"}},"y":{"field":"amount","type":"quantitative","title":null,"scale":{"nice":false,"zero":true,"padding":8.95},"axis":{"values":[0,500,1000,1500,2000,2500],"labelExpr":"datum.value % 1000 ? '' : datum.label","tickOpacity":{"condition":{"test":"datum.value % 1000","value":0},"value":1}}},"color":{"field":"compound","type":"nominal","title":null,"scale":{"domain":["PFOS","PFOA","PFHxS","FOSA"],"range":["#d6718a","#67c3ee","#ecb6b9","#23a0d8"]}},"order":{"field":"compound","sort":"ascending"}}},{"mark":{"type":"point","opacity":0},"encoding":{"x":{"field":"sample","type":"nominal","sort":null,"axis":{"orient":"top","title":["GRULAC","PER"]}}}}],"resolve":{"axis":{"x":"independent"}}},
{"width":151,"height":197,"transform":[{"filter":"datum.country==='URY'"}],"layer":[{"mark":"bar","encoding":{"x":{"field":"sample","type":"nominal","sort":null,"title":null,"scale":{"paddingInner":0.1,"paddingOuter":0.15},"axis":{"orient":"bottom"}},"y":{"field":"amount","type":"quantitative","title":null,"scale":{"nice":false,"zero":true,"padding":8.95},"axis":{"values":[0,125,250,375,500,625,750,875,1000,1125,1250],"labelExpr":"datum.value % 250 ? '' : datum.label","tickOpacity":{"condition":{"test":"datum.value % 250","value":0},"value":1}}},"color":{"field":"compound","type":"nominal","title":null,"scale":{"domain":["PFOS","PFOA","PFHxS","FOSA"],"range":["#d6718a","#67c3ee","#ecb6b9","#23a0d8"]}},"order":{"field":"compound","sort":"ascending"}}},{"mark":{"type":"point","opacity":0},"encoding":{"x":{"field":"sample","type":"nominal","sort":null,"axis":{"orient":"top","title":["GRULAC","URY"]}}}}],"resolve":{"axis":{"x":"independent"}}}
]
}
